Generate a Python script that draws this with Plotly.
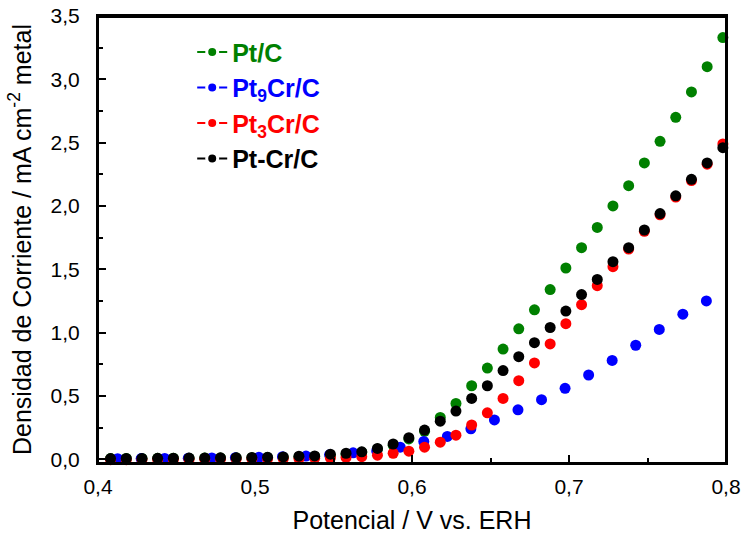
import plotly.graph_objects as go

# ---- data ----
x_grid = [round(0.408 + 0.01 * k, 3) for k in range(40)]
x_blue = [round(0.4125 + 0.015 * k, 4) for k in range(26)]

y_ptc = [0.005, 0.006, 0.006, 0.007, 0.008, 0.008, 0.009, 0.010, 0.011, 0.012,
         0.013, 0.015, 0.018, 0.022, 0.028, 0.038, 0.055, 0.080, 0.110, 0.160,
         0.220, 0.330, 0.440, 0.580, 0.720, 0.870, 1.030, 1.180, 1.340, 1.510,
         1.670, 1.830, 2.000, 2.160, 2.340, 2.510, 2.700, 2.900, 3.100, 3.330]

y_pt9cr = [0.004, 0.005, 0.006, 0.008, 0.010, 0.012, 0.015, 0.020, 0.025, 0.035,
           0.050, 0.065, 0.095, 0.140, 0.180, 0.240, 0.310, 0.390, 0.470, 0.560,
           0.665, 0.780, 0.900, 1.025, 1.145, 1.250]

y_pt3cr = [-0.004, -0.004, -0.003, -0.003, -0.002, -0.002, -0.001, 0.000, 0.001, 0.002,
           0.003, 0.004, 0.005, 0.007, 0.010, 0.014, 0.020, 0.032, 0.047, 0.063,
           0.095, 0.134, 0.190, 0.270, 0.366, 0.480, 0.620, 0.760, 0.910, 1.070,
           1.220, 1.370, 1.520, 1.660, 1.800, 1.930, 2.070, 2.200, 2.330, 2.490]

y_ptcr = [0.005, 0.006, 0.006, 0.007, 0.008, 0.009, 0.010, 0.011, 0.012, 0.014,
          0.016, 0.018, 0.024, 0.026, 0.040, 0.047, 0.058, 0.085, 0.120, 0.170,
          0.230, 0.300, 0.380, 0.480, 0.580, 0.700, 0.810, 0.920, 1.040, 1.170,
          1.300, 1.420, 1.560, 1.670, 1.810, 1.940, 2.080, 2.210, 2.340, 2.460]

series = [
    ("Pt/C", x_grid, y_ptc, "#008000"),
    ("Pt<sub>9</sub>Cr/C", x_blue, y_pt9cr, "#0000FF"),
    ("Pt<sub>3</sub>Cr/C", x_grid, y_pt3cr, "#FF0000"),
    ("Pt-Cr/C", x_grid, y_ptcr, "#000000"),
]

x_ticks = [0.4, 0.5, 0.6, 0.7, 0.8]
y_ticks = [0.0, 0.5, 1.0, 1.5, 2.0, 2.5, 3.0, 3.5]

FONT = "Liberation Sans, Arial, sans-serif"

fig = go.Figure()
# data points
for name, xs, ys, col in series:
    fig.add_trace(go.Scatter(
        x=xs, y=ys, mode="markers", showlegend=False, cliponaxis=False,
        marker=dict(color=col, size=11, line=dict(width=0)),
    ))
# legend entries
for i, (name, xs, ys, col) in enumerate(series):
    fig.add_trace(go.Scatter(
        x=[None], y=[None], mode="lines+markers",
        name=f"<b><span style='color:{col}'>{name}</span></b>",
        legendgroup=f"g{i}",
        line=dict(color=col, width=2),
        marker=dict(color=col, size=11, line=dict(color="white", width=3)),
    ))

axis_common = dict(
    showline=True, linecolor="black", linewidth=2, mirror=True,
    ticks="inside", ticklen=8, tickwidth=2, tickcolor="black",
    showgrid=False, zeroline=False, automargin=False,
    ticklabeloverflow="allow",
    tickfont=dict(family=FONT, size=21, color="black"),
    minor=dict(ticks="inside", ticklen=5, tickwidth=2, tickcolor="black"),
)

fig.update_xaxes(
    range=[0.4, 0.8], tickvals=x_ticks, tickformat=".1f",
    minor_dtick=0.05, ticklabelstandoff=4,
    title=dict(text="Potencial / V vs. ERH",
               font=dict(family=FONT, size=25, color="black"),
               standoff=14),
    **axis_common,
)
fig.update_yaxes(
    range=[-0.03, 3.5], tickvals=y_ticks, tickformat=".1f",
    minor_dtick=0.25, ticklabelstandoff=12,
    title=dict(text="Densidad de Corriente / mA cm<sup>-2</sup> metal",
               font=dict(family=FONT, size=25, color="black"),
               standoff=12),
    **axis_common,
)

# plot frame (top border)
fig.add_shape(type="rect", xref="paper", yref="paper", x0=0, y0=0, x1=1, y1=0.998,
              line=dict(color="black", width=2), layer="above")

fig.update_layout(
    width=742, height=538,
    margin=dict(l=98, r=16, t=16, b=75),
    plot_bgcolor="white", paper_bgcolor="white",
    separators=",.",
    legend=dict(
        x=0.15, y=0.9705, xanchor="left", yanchor="top",
        bgcolor="rgba(0,0,0,0)", borderwidth=0,
        font=dict(family=FONT, size=25, color="black"),
        tracegroupgap=0, itemwidth=30,
    ),
)

fig.write_html("out.html", config={"displayModeBar": False},
               post_script="document.body.style.margin='0';document.body.style.overflow='hidden';")
